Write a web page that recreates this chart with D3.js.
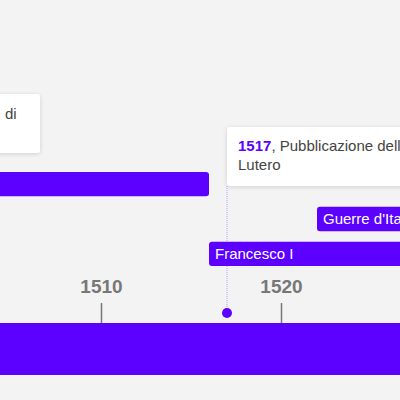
<!DOCTYPE html>
<html><head><meta charset="utf-8">
<script src="https://cdn.jsdelivr.net/npm/d3@7"></script>
<style>body{margin:0;background:#f3f3f3;font-family:Arial,"Liberation Sans",sans-serif}</style>
</head><body><svg id="c" width="400" height="400"></svg>
<script>
const ticks = [1510, 1520];
const bars = [
  { label: "", start: 1490, end: 1516, row: 0 },
  { label: "Guerre d'Italia", start: 1522, end: 1540, row: 1 },
  { label: "Francesco I", start: 1516, end: 1547, row: 2 }
];
const events = [{ year: 1517, text: ", Pubblicazione delle 95 tesi di", line2: "Lutero" }];

const svg = d3.select("#c");
const x = d3.scaleLinear().domain([1510, 1520]).range([101, 281]);
const rowY = d3.scaleBand().domain([0, 1, 2]).range([172, 266]).paddingInner(0.3);
const defs = svg.append("defs");
const f = defs.append("filter").attr("id", "sh").attr("x", "-10%").attr("y", "-20%").attr("width", "130%").attr("height", "150%");
f.append("feDropShadow").attr("dx", 0).attr("dy", 1).attr("stdDeviation", 2).attr("flood-opacity", 0.15);

const purple = "#5c00ff";
const fs = 15;

// left card (cut off)
svg.append("rect").attr("x", -200).attr("y", 94).attr("width", 240).attr("height", 59).attr("rx", 3)
  .attr("fill", "#fff").attr("filter", "url(#sh)");
svg.append("text").attr("x", 5).attr("y", 119).attr("font-size", fs).attr("fill", "#444").text("di");

// bars
const bg = svg.selectAll("g.bar").data(bars).enter().append("g");
bg.append("rect").attr("x", d => x(d.start)).attr("y", d => rowY(d.row))
  .attr("width", d => x(d.end) - x(d.start)).attr("height", rowY.bandwidth()).attr("rx", 3).attr("fill", purple);
bg.append("text").attr("x", d => x(d.start) + 6).attr("y", d => rowY(d.row) + rowY.bandwidth() / 2 + 5)
  .attr("font-size", fs).attr("fill", "#fff").text(d => d.label);

// events
events.forEach(e => {
  const ex = x(e.year);
  svg.append("line").attr("x1", ex).attr("x2", ex).attr("y1", 186).attr("y2", 313)
    .attr("stroke", purple).attr("stroke-width", 0.6).attr("stroke-dasharray", "1,1").attr("opacity", 0.6);
  svg.append("circle").attr("cx", ex).attr("cy", 313).attr("r", 5).attr("fill", purple);
  svg.append("rect").attr("x", ex).attr("y", 127).attr("width", 260).attr("height", 59).attr("rx", 3)
    .attr("fill", "#fff").attr("filter", "url(#sh)");
  const t = svg.append("text").attr("x", ex + 11).attr("y", 151).attr("font-size", fs).attr("fill", "#444");
  t.append("tspan").attr("font-weight", "bold").attr("fill", purple).text(e.year);
  t.append("tspan").text(e.text);
  svg.append("text").attr("x", ex + 11).attr("y", 170).attr("font-size", fs).attr("fill", "#444").text(e.line2);
});

// axis band
svg.append("rect").attr("x", 0).attr("y", 323).attr("width", 400).attr("height", 52).attr("fill", purple);
const ax = svg.append("g").attr("transform", "translate(0,323)")
  .call(d3.axisTop(x).tickValues(ticks).tickFormat(d3.format("d")).tickSize(20).tickPadding(10));
ax.select(".domain").remove();
ax.selectAll("line").attr("stroke", "#777").attr("stroke-width", 1.5);
ax.selectAll("text").attr("font-size", 19).attr("font-weight", "bold").attr("fill", "#777")
  .attr("font-family", "Arial,'Liberation Sans',sans-serif");
</script></body></html>
